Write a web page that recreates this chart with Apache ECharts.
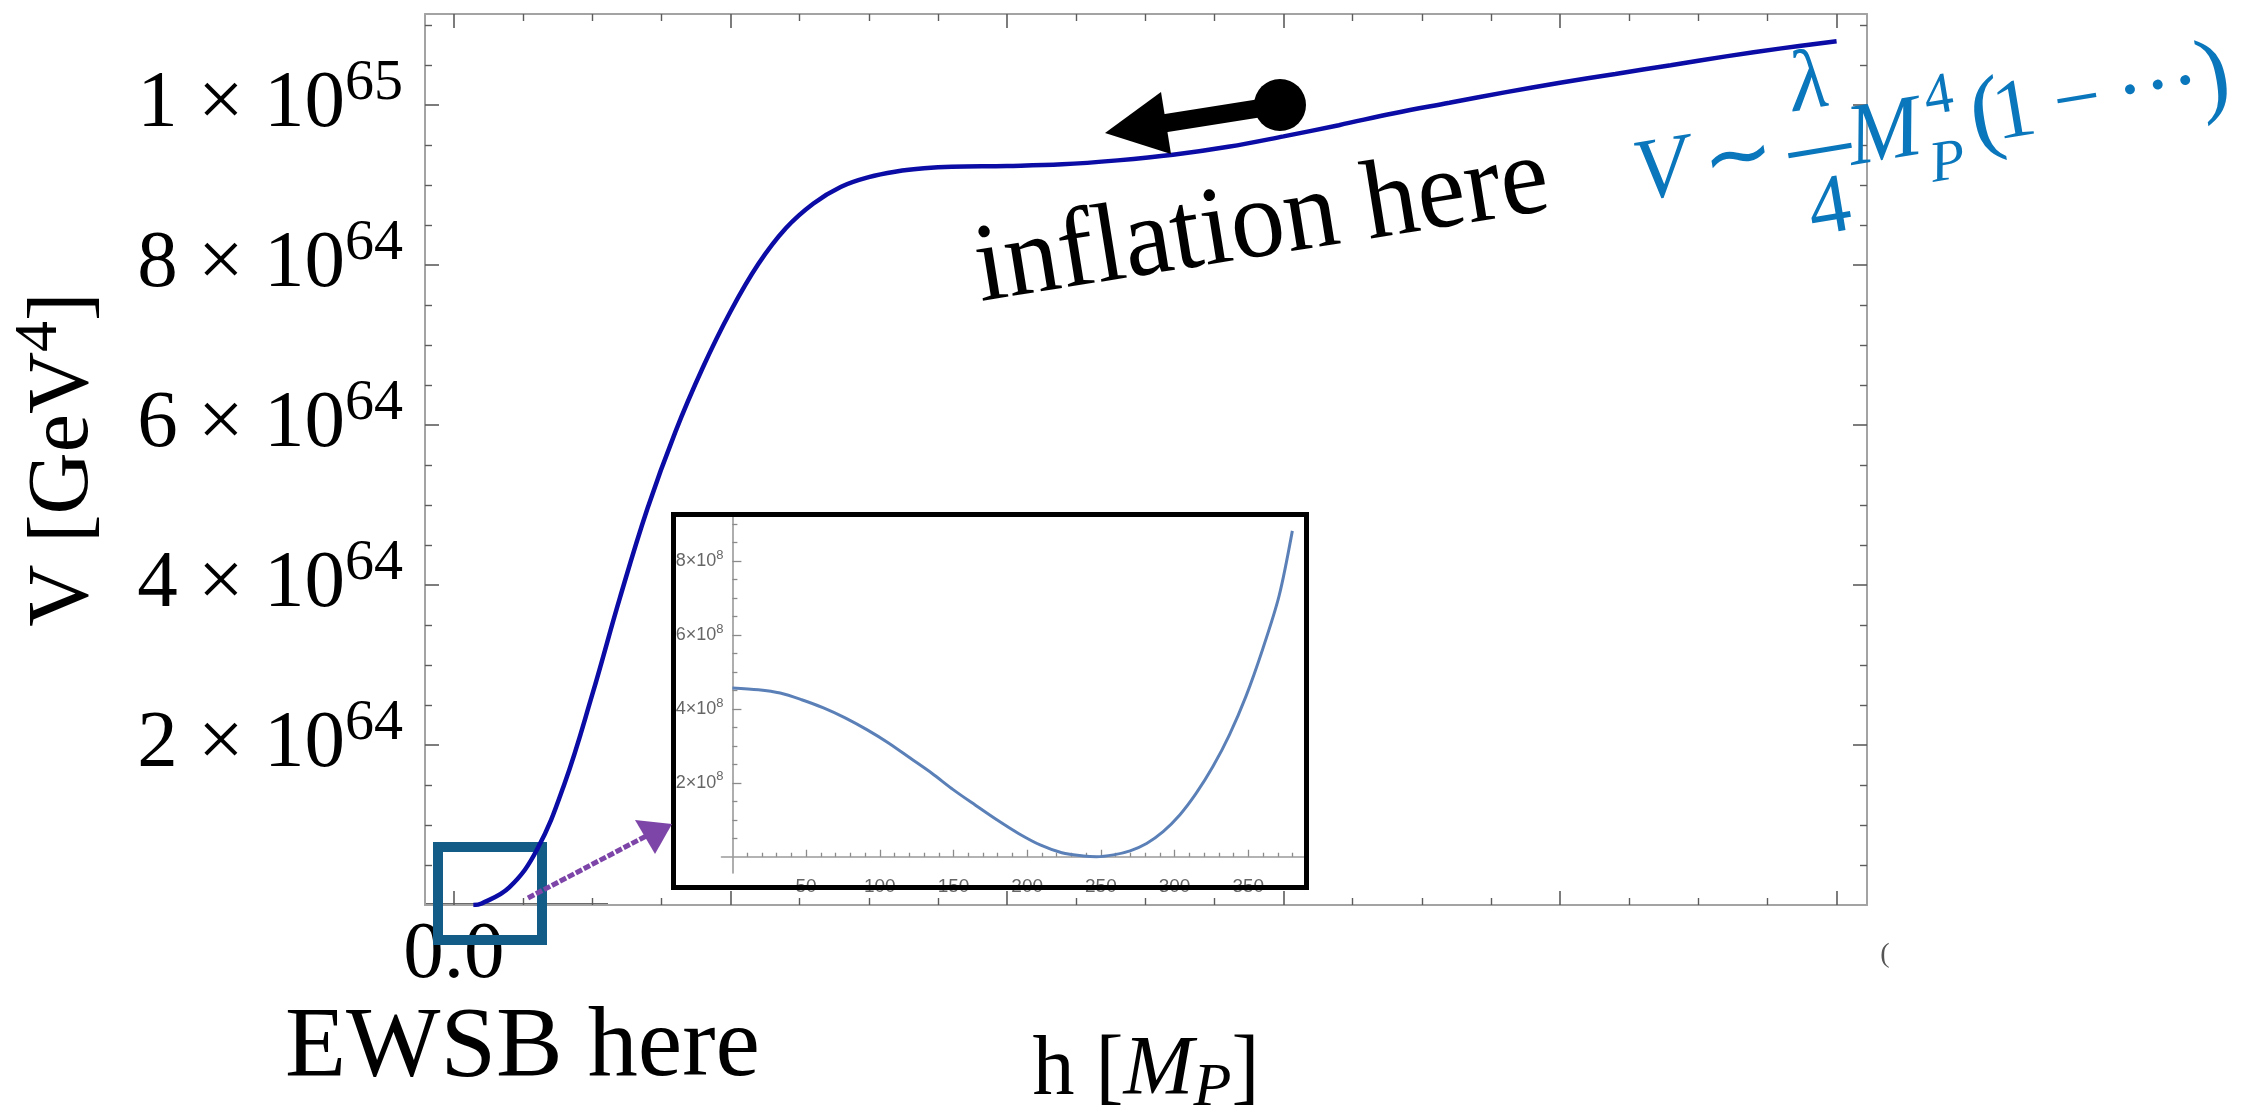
<!DOCTYPE html>
<html><head><meta charset="utf-8">
<script src="https://cdn.jsdelivr.net/npm/echarts@6/dist/echarts.min.js"></script>
<style>html,body{margin:0;padding:0;background:#fff}#c{width:2260px;height:1107px}</style>
</head><body><div id="c"></div>
<script>
// ---------------- data ----------------
// main curve: h in M_P (tick units), V in units of 1e64 GeV^4
const hMain = [0.035, 0.05, 0.10, 0.15, 0.20, 0.25, 0.30, 0.35, 0.40, 0.45, 0.50, 0.55, 0.60, 0.65, 0.70, 0.75, 0.80, 0.85, 0.90, 1.00, 1.10, 1.20, 1.30, 1.40, 1.50, 1.60, 1.70, 1.80, 1.90, 2.00, 2.10, 2.20, 2.30, 2.40, 2.50];
const vMain = [0.00, 0.02, 0.22, 0.69, 1.52, 2.63, 3.84, 4.96, 5.91, 6.72, 7.42, 8.01, 8.46, 8.77, 8.98, 9.10, 9.17, 9.21, 9.23, 9.24, 9.26, 9.31, 9.38, 9.48, 9.61, 9.75, 9.90, 10.03, 10.16, 10.28, 10.39, 10.50, 10.61, 10.71, 10.80];
// inset curve: h in GeV, V in units of 1e8
const hInset = [0, 17.6, 32.4, 47, 61.8, 76.5, 91.2, 105.9, 120.6, 135.3, 150, 164.7, 179.4, 194.1, 208.8, 223.5, 238.2, 247, 258.5, 269.8, 281, 292.2, 303.5, 314.7, 326, 337.2, 348.4, 359.7, 370.9, 379.9];
const vInset = [4.57, 4.52, 4.43, 4.25, 4.03, 3.76, 3.44, 3.08, 2.67, 2.26, 1.81, 1.40, 1.00, 0.63, 0.32, 0.11, 0.02, 0.00, 0.05, 0.16, 0.36, 0.68, 1.13, 1.72, 2.44, 3.30, 4.34, 5.61, 7.06, 8.82];

// ticks / tick labels
const xMajorTicks = [0, 0.5, 1, 1.5, 2, 2.5];
const xMinorTicks = [0.125, 0.25, 0.375, 0.625, 0.75, 0.875, 1.125, 1.25, 1.375, 1.625, 1.75, 1.875, 2.125, 2.25, 2.375];
const xLabelValues = [0];
const xLabelTexts = ['0.0'];
const yMajorTicks = [2, 4, 6, 8, 10];
const yMinorTicks = [0.5, 1, 1.5, 2.5, 3, 3.5, 4.5, 5, 5.5, 6.5, 7, 7.5, 8.5, 9, 9.5, 10.5, 11];
const yLabelMantissa = ['2', '4', '6', '8', '1'];
const yLabelExponent = ['64', '64', '64', '64', '65'];
const insetXMajor = [50, 100, 150, 200, 250, 300, 350];
const insetXMinor = [10, 20, 30, 40, 60, 70, 80, 90, 110, 120, 130, 140, 160, 170, 180, 190, 210, 220, 230, 240, 260, 270, 280, 290, 310, 320, 330, 340, 360, 370, 380];
const insetYMajor = [2, 4, 6, 8];
const insetYMinor = [0.5, 1, 1.5, 2.5, 3, 3.5, 4.5, 5, 5.5, 6.5, 7, 7.5, 8.5, 9];

// ---------------- chart ----------------
const SERIF = "'Liberation Serif', 'Times New Roman', serif";
const NARROW = "'Liberation Sans Narrow', 'Liberation Sans', sans-serif";
const FORMULA = '#0a76bb';
const chart = echarts.init(document.getElementById('c'), null, {renderer: 'canvas'});

const frameLine = {show: true, onZero: false, lineStyle: {color: '#a3a3a3', width: 2}};
const noLine = {show: false, onZero: false};
const tickMaj = vals => ({show: true, inside: true, length: 14, customValues: vals, lineStyle: {color: '#5c5c5c', width: 1.6}});
const tickMin = vals => ({show: true, inside: true, length: 7, customValues: vals, lineStyle: {color: '#5c5c5c', width: 1.4}});
const XMIN = -0.0524, XMAX = 2.555, YMIN = 0, YMAX = 11.14;
const IXMIN = -7.4, IXMAX = 387.8, IYMIN = -0.44, IYMAX = 9.25;

const mainX = (pos, ticks, line, label) => ({
  type: 'value', gridIndex: 0, position: pos, min: XMIN, max: XMAX,
  axisLine: line, axisTick: ticks, splitLine: {show: false}, z: 1,
  axisLabel: label || {show: false}
});
const mainY = (pos, ticks, line, label) => ({
  type: 'value', gridIndex: 0, position: pos, min: YMIN, max: YMAX,
  axisLine: line, axisTick: ticks, splitLine: {show: false}, z: 1,
  axisLabel: label || {show: false}
});

const insetLabelColor = '#666666';
const insetAxisLine = idx => ({show: true, onZero: true, onZeroAxisIndex: idx, lineStyle: {color: '#9a9a9a', width: 1.6}});
const insetNoLine = idx => ({show: false, onZero: true, onZeroAxisIndex: idx});
const itick = (vals, len) => ({show: true, inside: true, length: len, customValues: vals, lineStyle: {color: '#8a8a8a', width: 1.3}});

function ftext(x, y, text, size, italic) {
  return {type: 'text', z: 21, x: x, y: y, style: {text: text, fontFamily: SERIF, fontStyle: italic ? 'italic' : 'normal',
    fontSize: size, fill: FORMULA, align: 'center', verticalAlign: 'middle'}};
}

const option = {
  animation: false,
  backgroundColor: '#ffffff',
  grid: [
    {left: 425, right: 393, top: 14, bottom: 202, containLabel: false, outerBoundsMode: 'none'},
    {left: 721.5, right: 956, top: 515, bottom: 234, containLabel: false, outerBoundsMode: 'none', z: 6}
  ],
  xAxis: [
    Object.assign(mainX('bottom', tickMaj(xMajorTicks), frameLine, {
      show: true, customValues: xLabelValues, margin: 10,
      formatter: v => xLabelTexts[xLabelValues.indexOf(v)] || '',
      fontFamily: SERIF, fontSize: 81, color: '#000'
    }), {
      name: 'h [{i|M}{sub|P}]', nameLocation: 'middle', nameGap: 118,
      nameTextStyle: {fontFamily: SERIF, fontSize: 84, color: '#000',
        rich: {i: {fontFamily: SERIF, fontSize: 84, fontStyle: 'italic', color: '#000'},
               sub: {fontFamily: SERIF, fontSize: 62, fontStyle: 'italic', color: '#000', padding: [35, 0, 0, 0]}}}
    }),
    mainX('bottom', tickMin(xMinorTicks), noLine),
    mainX('top', tickMaj(xMajorTicks), frameLine),
    mainX('top', tickMin(xMinorTicks), noLine),
    {type: 'value', gridIndex: 1, position: 'bottom', min: IXMIN, max: IXMAX, z: 7,
     axisLine: insetAxisLine(4), axisTick: itick(insetXMajor, 7), splitLine: {show: false},
     axisLabel: {show: true, customValues: insetXMajor, margin: 4, fontFamily: NARROW, fontSize: 19, color: insetLabelColor}},
    {type: 'value', gridIndex: 1, position: 'bottom', min: IXMIN, max: IXMAX, z: 7,
     axisLine: insetNoLine(4), axisTick: itick(insetXMinor, 4), splitLine: {show: false}, axisLabel: {show: false}}
  ],
  yAxis: [
    Object.assign(mainY('left', tickMaj(yMajorTicks), frameLine, {
      show: true, customValues: yMajorTicks, margin: 22,
      formatter: v => {
        const i = yMajorTicks.indexOf(v);
        return i < 0 ? '' : yLabelMantissa[i] + ' \u00d7 10{sup|' + yLabelExponent[i] + '}';
      },
      fontFamily: SERIF, fontSize: 81, color: '#000',
      rich: {sup: {fontFamily: SERIF, fontSize: 58, color: '#000', padding: [0, 0, 43, 0]}}
    }), {
      name: 'V [GeV{sup|4}]', nameLocation: 'middle', nameRotate: 90, nameGap: 305,
      nameTextStyle: {fontFamily: SERIF, fontSize: 86, color: '#000',
        rich: {sup: {fontFamily: SERIF, fontSize: 62, color: '#000', padding: [0, 0, 49, 0]}}}
    }),
    mainY('left', tickMin(yMinorTicks), noLine),
    mainY('right', tickMaj(yMajorTicks), frameLine),
    mainY('right', tickMin(yMinorTicks), noLine),
    {type: 'value', gridIndex: 1, position: 'left', min: IYMIN, max: IYMAX, z: 7,
     axisLine: insetAxisLine(4), axisTick: itick(insetYMajor, 9), splitLine: {show: false},
     axisLabel: {show: true, customValues: insetYMajor, margin: -2, fontFamily: NARROW, fontSize: 18, color: insetLabelColor,
       formatter: v => v + '\u00d710{sup|8}',
       rich: {sup: {fontFamily: NARROW, fontSize: 13, color: insetLabelColor, padding: [0, 0, 12, 0]}}}},
    {type: 'value', gridIndex: 1, position: 'left', min: IYMIN, max: IYMAX, z: 7,
     axisLine: insetNoLine(4), axisTick: itick(insetYMinor, 5), splitLine: {show: false}, axisLabel: {show: false}}
  ],
  series: [
    {type: 'line', name: 'V(h)', xAxisIndex: 0, yAxisIndex: 0, z: 3,
     data: hMain.map((h, i) => [h, vMain[i]]), showSymbol: false, smooth: 0.4,
     lineStyle: {color: '#0b0ba6', width: 4.5}},
    {type: 'line', name: 'V(h) near EW vacuum', xAxisIndex: 4, yAxisIndex: 4, z: 8,
     data: hInset.map((h, i) => [h, vInset[i]]), showSymbol: false, smooth: 0.3,
     lineStyle: {color: '#5b80b8', width: 3}}
  ],
  graphic: [
    {type: 'line', z: 1, shape: {x1: 425, y1: 904, x2: 608, y2: 904}, style: {stroke: '#6a6a6a', lineWidth: 2}},
    {type: 'rect', z: 5, shape: {x: 674, y: 515, width: 632, height: 372}, style: {fill: '#ffffff'}},
    {type: 'rect', z: 19, shape: {x: 655, y: 535, width: 17, height: 275}, style: {fill: '#ffffff'}},
    {type: 'rect', z: 20, shape: {x: 673.5, y: 514.5, width: 633, height: 373}, style: {fill: null, stroke: '#000', lineWidth: 5}},
    {type: 'rect', z: 2, shape: {x: 438, y: 847, width: 104, height: 93}, style: {fill: null, stroke: '#145c88', lineWidth: 10}},
    {type: 'line', z: 21, shape: {x1: 528, y1: 898, x2: 650, y2: 834}, style: {stroke: '#7e45a8', lineWidth: 5, lineDash: [7, 2]}},
    {type: 'polygon', z: 21, shape: {points: [[635, 820], [672, 824], [655, 854]]}, style: {fill: '#7e45a8'}},
    {type: 'line', z: 21, shape: {x1: 1280, y1: 105, x2: 1160, y2: 124}, style: {stroke: '#000', lineWidth: 18}},
    {type: 'polygon', z: 21, shape: {points: [[1105, 133], [1161, 92], [1171, 154]]}, style: {fill: '#000'}},
    {type: 'circle', z: 21, shape: {cx: 1280, cy: 105, r: 26}, style: {fill: '#000'}},
    {type: 'text', z: 21, x: 1262, y: 226, rotation: 0.159, scaleX: 0.965,
     style: {text: 'inflation here', fontFamily: SERIF, fontSize: 112, fill: '#000', align: 'center', verticalAlign: 'middle'}},
    {type: 'text', z: 21, x: 285, y: 1049,
     style: {text: 'EWSB here', fontFamily: SERIF, fontSize: 100, fill: '#000', align: 'left', verticalAlign: 'middle'}},
    {type: 'text', z: 21, x: 1885, y: 955,
     style: {text: '(', fontFamily: SERIF, fontSize: 28, fill: '#555', align: 'center', verticalAlign: 'middle'}},
    {type: 'group', z: 21, x: 1820, y: 151, rotation: 0.166, children: [
      ftext(-160, -4, 'V', 88, true),
      ftext(-82, -4, '\u223c', 86, false),
      ftext(0, -66, '\u03bb', 86, true),
      {type: 'rect', z: 21, shape: {x: -32, y: -3, width: 64, height: 5}, style: {fill: FORMULA}},
      ftext(0, 60, '4', 84, false),
      ftext(66, -4, 'M', 88, true),
      ftext(126, -33, '4', 58, false),
      ftext(124, 34, 'P', 58, true),
      ftext(170, -6, '(', 96, false),
      ftext(198, -4, '1', 84, false),
      ftext(262, -4, '\u2212', 84, false),
      ftext(344, -4, '\u00b7\u00b7\u00b7', 84, false),
      ftext(400, -6, ')', 96, false)
    ]}
  ]
};
chart.setOption(option);
</script>
</body></html>
